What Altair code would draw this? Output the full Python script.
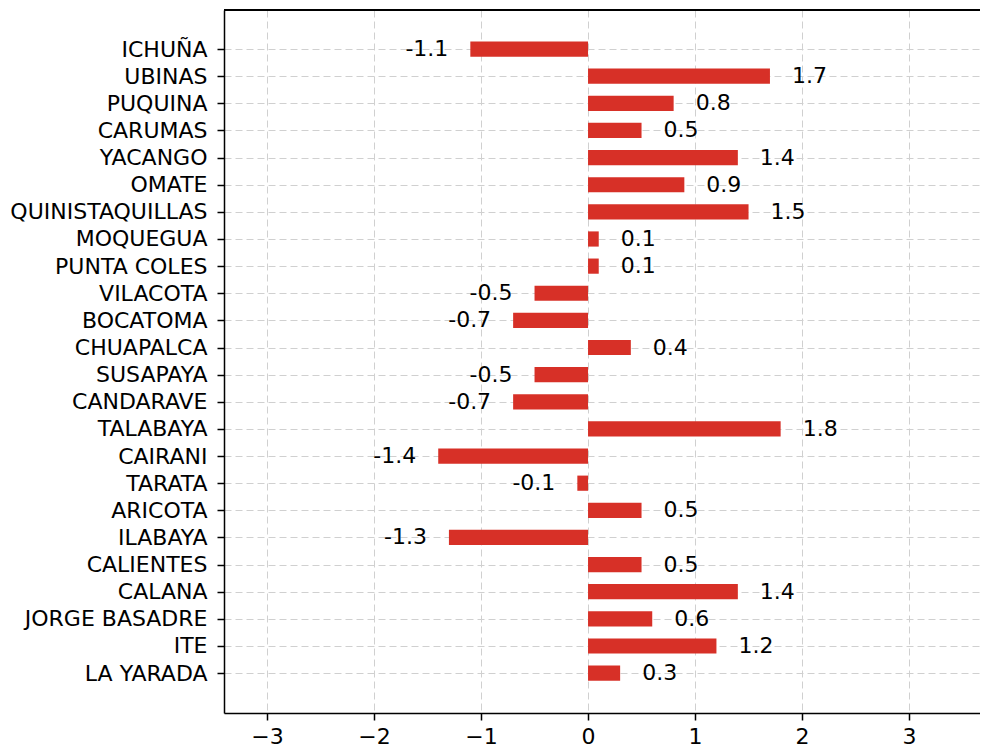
import altair as alt
import pandas as pd
import json

stations = ["ICHUÑA", "UBINAS", "PUQUINA", "CARUMAS", "YACANGO", "OMATE",
            "QUINISTAQUILLAS", "MOQUEGUA", "PUNTA COLES", "VILACOTA", "BOCATOMA",
            "CHUAPALCA", "SUSAPAYA", "CANDARAVE", "TALABAYA", "CAIRANI", "TARATA",
            "ARICOTA", "ILABAYA", "CALIENTES", "CALANA", "JORGE BASADRE", "ITE",
            "LA YARADA"]
values = [-1.1, 1.7, 0.8, 0.5, 1.4, 0.9, 1.5, 0.1, 0.1, -0.5, -0.7, 0.4, -0.5,
          -0.7, 1.8, -1.4, -0.1, 0.5, -1.3, 0.5, 1.4, 0.6, 1.2, 0.3]
x_ticks = [-3, -2, -1, 0, 1, 2, 3]

n = len(stations)
df = pd.DataFrame({"station": stations, "value": values})
df["idx"] = [n - 1 - i for i in range(n)]  # bottom row = 0
df["label"] = [f"{v:.1f}" for v in values]

bottom_up = list(reversed(stations))
label_expr = json.dumps(bottom_up, ensure_ascii=False) + "[datum.value]"

FONT = "DejaVu Sans"
FS = 22
W, H = 756, 703
BAR_HALF = 0.28

xs = alt.Scale(domain=[-3.402, 3.663], nice=False, zero=False)
ys = alt.Scale(domain=[-1.47, n - 1 + 1.44], nice=False, zero=False)

y_axis = alt.Axis(values=list(range(n)), labelExpr=label_expr,
                  labelOverlap=False, labelBound=False, title=None)

base = alt.Chart(df).transform_calculate(
    y0=f"datum.idx - {BAR_HALF}", y1=f"datum.idx + {BAR_HALF}"
)

bars = base.mark_rect(color="#d73027").encode(
    x=alt.X("value:Q", scale=xs, title=None,
            axis=alt.Axis(values=x_ticks, format="d")),
    x2=alt.datum(0),
    y=alt.Y("y0:Q", scale=ys, title=None, axis=y_axis),
    y2="y1:Q",
)

pos_text = base.transform_filter("datum.value >= 0").mark_text(
    align="left", baseline="middle", dx=22, font=FONT, fontSize=FS, color="black"
).encode(x=alt.X("value:Q", scale=xs), y=alt.Y("idx:Q", scale=ys, axis=y_axis),
         text="label:N")

neg_text = base.transform_filter("datum.value < 0").mark_text(
    align="right", baseline="middle", dx=-22, font=FONT, fontSize=FS, color="black"
).encode(x=alt.X("value:Q", scale=xs), y=alt.Y("idx:Q", scale=ys, axis=y_axis),
         text="label:N")

top_spine = alt.Chart(df).mark_rule(color="black", strokeWidth=1.5).encode(
    x=alt.value(0), x2=alt.value(W), y=alt.value(0)
)

chart = alt.layer(bars, pos_text, neg_text, top_spine).properties(
    width=W, height=H,
    autosize=alt.AutoSizeParams(type="none"),
    padding={"left": 216, "top": 2, "right": 0, "bottom": 36},
).configure_view(
    strokeWidth=0
).configure_axis(
    labelFont=FONT, labelFontSize=FS, labelColor="black",
    domainColor="black", domainWidth=1.5,
    tickColor="black", tickWidth=1.5, tickSize=7,
    grid=True, gridColor="#d0d0d0", gridDash=[7, 4], gridWidth=1,
    labelOverlap=False,
).configure_axisY(
    labelPadding=10, labelLimit=300,
).configure_axisX(
    labelPadding=6,
)

chart.save("out.html", embed_options={"renderer": "svg", "actions": False})
